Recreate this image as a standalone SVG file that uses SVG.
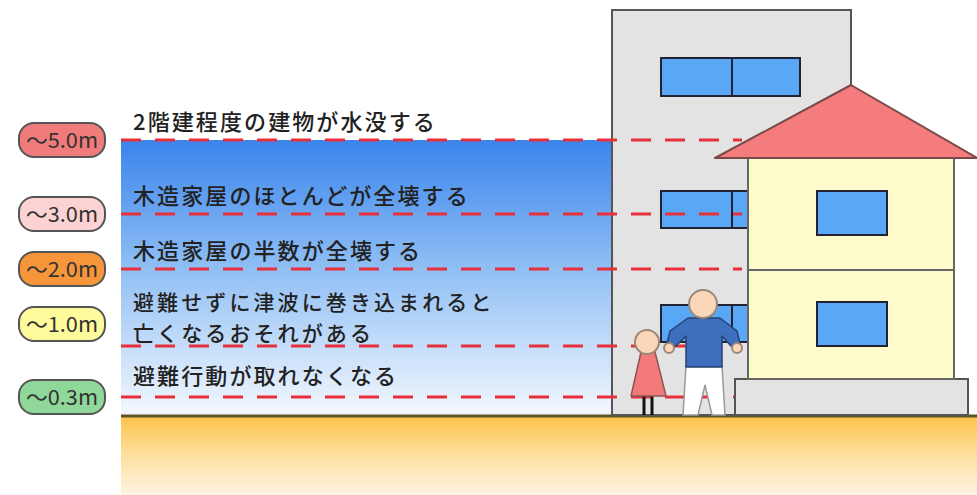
<svg xmlns="http://www.w3.org/2000/svg" width="977" height="495" viewBox="0 0 977 495">
  <defs>
    <linearGradient id="water" x1="0" y1="0" x2="0" y2="1">
      <stop offset="0" stop-color="#3a84ec"/>
      <stop offset="0.45" stop-color="#8dbdf4"/>
      <stop offset="1" stop-color="#f4f8fe"/>
    </linearGradient>
    <linearGradient id="soil" x1="0" y1="0" x2="0" y2="1">
      <stop offset="0" stop-color="#fcc24a"/>
      <stop offset="0.5" stop-color="#fde0a0"/>
      <stop offset="1" stop-color="#fff4e2"/>
    </linearGradient>
    <style>
      .pill { stroke: #555; stroke-width: 2; }
      .pill-text { font-family: "Noto Sans CJK JP", "Liberation Sans", sans-serif; font-size: 21px; fill: #333; text-anchor: middle; }
      .desc { font-family: "Noto Sans CJK JP", sans-serif; font-size: 22px; font-weight: 500; fill: #222; letter-spacing: 2.1px; }
      .desc.tight { font-size: 21px; letter-spacing: 3.1px; }
      .level { stroke: #e8303c; stroke-width: 3; stroke-dasharray: 20 14; fill: none; }
      .wall { fill: #e3e3e3; stroke: #555; stroke-width: 2; }
      .glass { fill: #5aa8f5; stroke: #223; stroke-width: 2; }
      .skin { fill: #fbd6b8; stroke: #9a8878; stroke-width: 2; }
    </style>
  </defs>

  <!-- flood water -->
  <rect x="121" y="140" width="492" height="276" fill="url(#water)"/>

  <!-- ground -->
  <rect x="121" y="416" width="856" height="79" fill="url(#soil)"/>
  <line x1="121" y1="416" x2="977" y2="416" stroke="#5e5228" stroke-width="3"/>

  <!-- concrete building -->
  <g id="building">
    <rect class="wall" x="612" y="10" width="239" height="405"/>
    <rect class="glass" x="661" y="58" width="139" height="38"/>
    <line x1="732" y1="58" x2="732" y2="96" stroke="#223" stroke-width="2"/>
    <rect class="glass" x="661" y="191" width="139" height="37"/>
    <line x1="732" y1="191" x2="732" y2="228" stroke="#223" stroke-width="2"/>
    <rect class="glass" x="661" y="305" width="139" height="37"/>
    <line x1="732" y1="305" x2="732" y2="342" stroke="#223" stroke-width="2"/>
  </g>

  <!-- water level lines -->
  <g id="levels">
    <line class="level" x1="121" y1="140" x2="742" y2="140"/>
    <line class="level" x1="121" y1="214" x2="742" y2="214"/>
    <line class="level" x1="121" y1="269" x2="742" y2="269"/>
    <line class="level" x1="121" y1="346" x2="742" y2="346"/>
    <line class="level" x1="121" y1="397" x2="742" y2="397"/>
  </g>

  <!-- wooden house -->
  <g id="house">
    <rect class="wall" x="735" y="379" width="233" height="36"/>
    <rect x="748" y="158" width="206" height="221" fill="#fefbcb" stroke="#666" stroke-width="2"/>
    <line x1="748" y1="270" x2="954" y2="270" stroke="#666" stroke-width="2"/>
    <polygon points="851,85 715,158 977,158" fill="#f47c7c" stroke="#7a4a4a" stroke-width="2" stroke-linejoin="round"/>
    <rect class="glass" x="817" y="191" width="70" height="44"/>
    <rect class="glass" x="817" y="302" width="70" height="44"/>
  </g>

  <!-- child -->
  <g id="child">
    <line x1="644" y1="395" x2="644" y2="415" stroke="#111" stroke-width="3"/>
    <line x1="652" y1="395" x2="652" y2="415" stroke="#111" stroke-width="3"/>
    <polygon points="641,352 655,352 666,396 631,396" fill="#f27a78" stroke="#8a5555" stroke-width="1.5" stroke-linejoin="round"/>
    <circle class="skin" cx="647" cy="342" r="12"/>
  </g>

  <!-- adult -->
  <g id="adult">
    <path d="M686,366 L722,366 L725,415 L712,415 L705,385 L698,415 L683,415 Z" fill="#fff" stroke="#999" stroke-width="1.5"/>
    <path d="M688,318 L720,318 L737,331 L740,344 L731,346 L722,336 L722,367 L686,367 L686,336 L676,346 L667,344 L670,331 Z" fill="#3d6fbf" stroke="#2a3f70" stroke-width="1.5" stroke-linejoin="round"/>
    <circle class="skin" cx="669" cy="348" r="5"/>
    <circle class="skin" cx="737" cy="348" r="5"/>
    <circle class="skin" cx="703" cy="304" r="14"/>
  </g>

  <!-- depth labels -->
  <g id="label-50">
    <rect class="pill" x="19" y="123" width="86" height="34" rx="15" fill="#f07b7b"/>
    <text class="pill-text" x="62" y="148" textLength="72" lengthAdjust="spacingAndGlyphs">～5.0m</text>
  </g>
  <g id="label-30">
    <rect class="pill" x="19" y="197" width="86" height="34" rx="15" fill="#fcd2d2"/>
    <text class="pill-text" x="62" y="222" textLength="72" lengthAdjust="spacingAndGlyphs">～3.0m</text>
  </g>
  <g id="label-20">
    <rect class="pill" x="19" y="252" width="86" height="34" rx="15" fill="#f7953a"/>
    <text class="pill-text" x="62" y="277" textLength="72" lengthAdjust="spacingAndGlyphs">～2.0m</text>
  </g>
  <g id="label-10">
    <rect class="pill" x="19" y="307" width="86" height="34" rx="15" fill="#fdfb9c"/>
    <text class="pill-text" x="62" y="332" textLength="72" lengthAdjust="spacingAndGlyphs">～1.0m</text>
  </g>
  <g id="label-03">
    <rect class="pill" x="19" y="380" width="86" height="34" rx="15" fill="#8fd89a"/>
    <text class="pill-text" x="62" y="405" textLength="72" lengthAdjust="spacingAndGlyphs">～0.3m</text>
  </g>

  <!-- damage descriptions -->
  <g id="descriptions">
    <text class="desc" x="133" y="130">2階建程度の建物が水没する</text>
    <text class="desc" x="133" y="204">木造家屋のほとんどが全壊する</text>
    <text class="desc" x="133" y="259">木造家屋の半数が全壊する</text>
    <text class="desc tight" x="133" y="310">避難せずに津波に巻き込まれると</text>
    <text class="desc tight" x="133" y="341">亡くなるおそれがある</text>
    <text class="desc" x="133" y="384">避難行動が取れなくなる</text>
  </g>
</svg>
